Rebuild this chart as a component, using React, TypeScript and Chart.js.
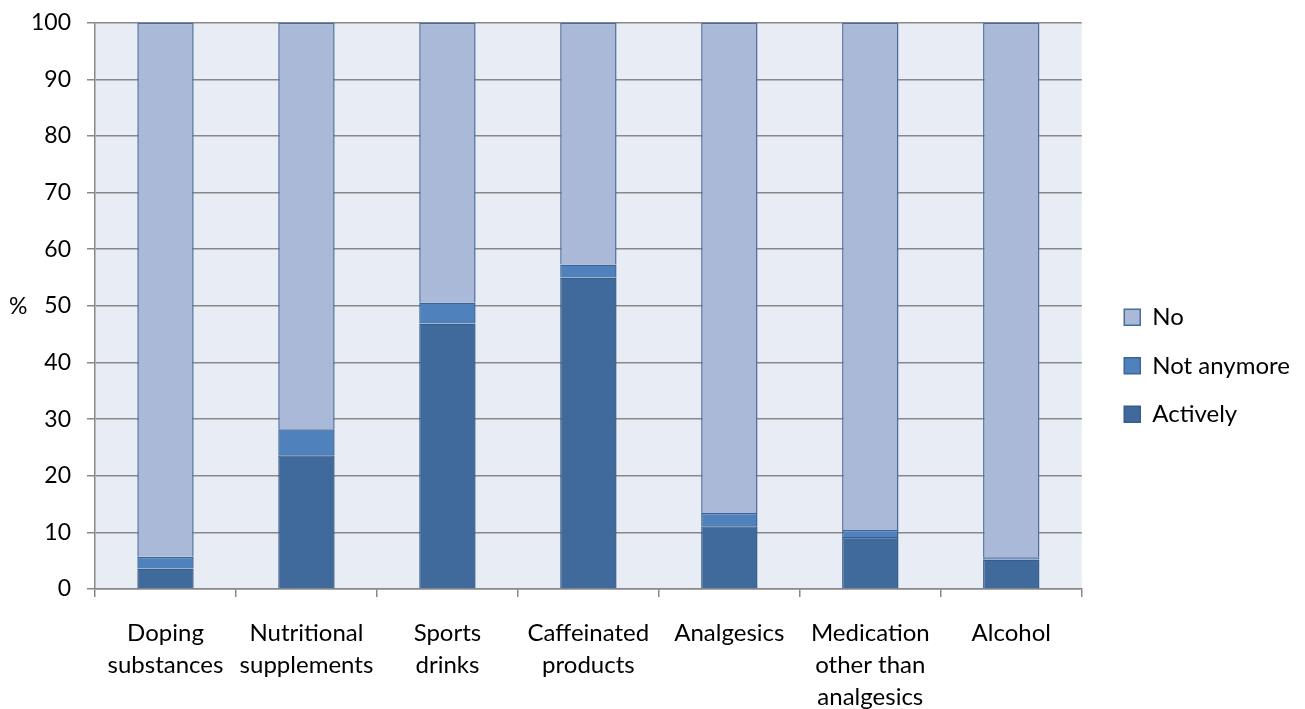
import React, { useEffect, useRef } from "react";
import { Chart, registerables } from "chart.js";

Chart.register(...registerables);

const categories: string[][] = [
  ["Doping", "substances"],
  ["Nutritional", "supplements"],
  ["Sports", "drinks"],
  ["Caffeinated", "products"],
  ["Analgesics"],
  ["Medication", "other than", "analgesics"],
  ["Alcohol"],
];
const actively = [3.6, 23.6, 46.9, 55.0, 11.1, 9.2, 5.2];
const notAnymore = [2.1, 4.6, 3.7, 2.3, 2.3, 1.2, 0.4];
const no = [94.3, 71.8, 49.4, 42.7, 86.6, 89.6, 94.4];
const yTicks = [0, 10, 20, 30, 40, 50, 60, 70, 80, 90, 100];

const FONT = "Lato, 'Open Sans', sans-serif";

const plotBg = {
  id: "plotBg",
  afterLayout(chart: any) {
    const lg = chart.legend;
    if (lg) {
      lg.left += 18;
      lg.right += 18;
    }
  },
  beforeDraw(chart: any) {
    const { ctx, chartArea } = chart;
    ctx.save();
    ctx.fillStyle = "#E8ECF4";
    ctx.fillRect(chartArea.left, chartArea.top, chartArea.right - chartArea.left, chartArea.bottom - chartArea.top);
    ctx.restore();
  },
  afterDraw(chart: any) {
    const { ctx, chartArea } = chart;
    ctx.save();
    ctx.fillStyle = "#000";
    ctx.font = "23px " + FONT;
    ctx.textAlign = "left";
    ctx.textBaseline = "middle";
    ctx.fillText("%", 9, (chartArea.top + chartArea.bottom) / 2 + 1);
    ctx.restore();
  },
};

export default function App() {
  const ref = useRef<HTMLCanvasElement>(null);
  useEffect(() => {
    document.body.style.margin = "0";
    const chart = new Chart(ref.current!, {
      type: "bar",
      data: {
        labels: categories,
        datasets: [
          { label: "Actively", data: actively, backgroundColor: "#3F6A9B", borderColor: "#385D8A", borderWidth: 1.5 },
          { label: "Not anymore", data: notAnymore, backgroundColor: "#4F81BD", borderColor: "#3C6496", borderWidth: 1.5 },
          { label: "No", data: no, backgroundColor: "#AAB9D7", borderColor: "#4A6C9C", borderWidth: 1.5 },
        ],
      },
      options: {
        animation: false,
        responsive: false,
        layout: { padding: { left: 0, top: 22.7, right: 23, bottom: 0 } },
        datasets: { bar: { barPercentage: 0.4, categoryPercentage: 1 } },
        plugins: {
          legend: {
            position: "right",
            reverse: true,
            labels: {
              boxWidth: 16,
              boxHeight: 16,
              padding: 24.5,
              color: "#000",
              font: { size: 24, family: FONT },
            },
          },
          tooltip: { enabled: false },
        },
        scales: {
          x: {
            stacked: true,
            offset: true,
            afterFit: (s: any) => { s.height = 120; },
            grid: { display: true, drawOnChartArea: false, offset: true, tickLength: 8, color: "#888", lineWidth: 1.5 },
            border: { color: "#888", width: 1.5 },
            ticks: { color: "#000", font: { size: 24, family: FONT, lineHeight: 1.33 }, maxRotation: 0, autoSkip: false, padding: 20 },
          },
          y: {
            stacked: true,
            min: 0,
            max: 100,
            afterFit: (s: any) => { s.width = 95; s.paddingTop = 0; s.paddingBottom = 0; },
            afterBuildTicks: (s: any) => { s.ticks = yTicks.map((v) => ({ value: v })); },
            grid: { color: "#888", lineWidth: 1.5, tickLength: 8 },
            border: { color: "#888", width: 1.5 },
            ticks: { color: "#000", font: { size: 23, family: FONT }, padding: 16 },
          },
        },
      },
      plugins: [plotBg],
    } as any);
    return () => chart.destroy();
  }, []);
  return <canvas ref={ref} width={1305} height={709} style={{ display: "block" }} />;
}
